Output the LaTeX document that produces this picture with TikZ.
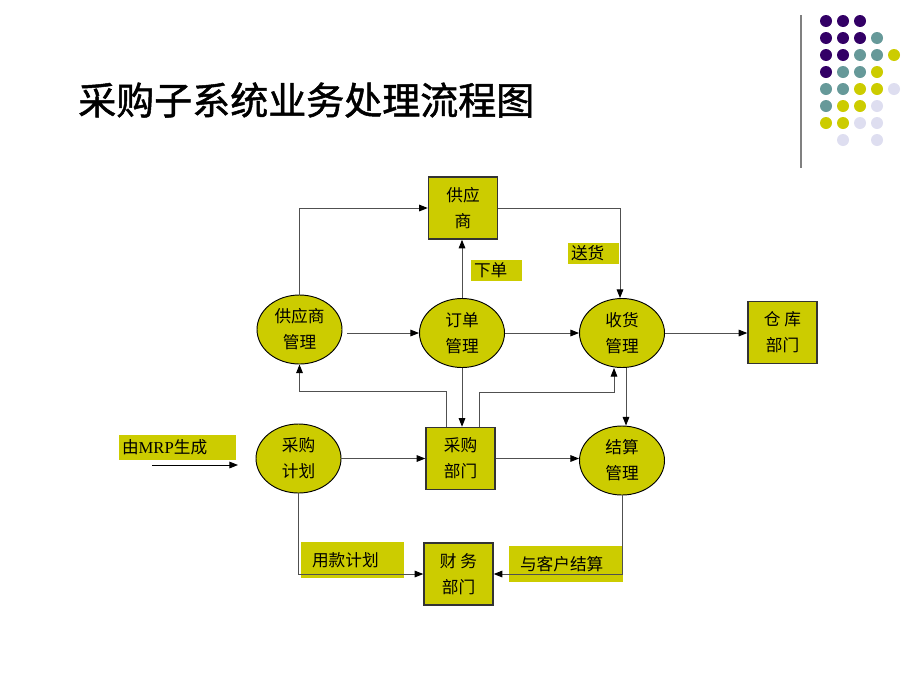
\documentclass[tikz,border=0pt]{standalone}
\usepackage{fontspec}
\setmainfont{Liberation Serif}
\newfontfamily\cjk{Noto Sans CJK SC}
\newfontfamily\cjktitle[FakeBold=1.3]{Noto Sans CJK SC}
\usepackage{tikz}
\usetikzlibrary{arrows.meta,calc,positioning,shapes.geometric}
\definecolor{flowfill}{RGB}{204,204,0}
\definecolor{linegray}{RGB}{80,80,80}
\definecolor{dotpurple}{RGB}{51,0,102}
\definecolor{dotteal}{RGB}{102,153,153}
\definecolor{dotyellow}{RGB}{204,204,0}
\definecolor{dotlilac}{RGB}{222,222,240}
\newcommand{\flowfont}{\cjk\fontsize{12.5}{19.5}\selectfont}

\begin{document}
\begin{tikzpicture}[
    x=0.75pt, y=-0.75pt,
    proc/.style={ellipse, draw=black, line width=0.7pt, fill=flowfill,
        minimum width=63.75pt, minimum height=51.75pt, inner sep=0,
        align=center, font=\flowfont},
    dept/.style={rectangle, draw=black!80, line width=1.1pt, fill=flowfill,
        minimum width=51.75pt, minimum height=46.5pt, inner sep=0,
        align=center, font=\flowfont},
    tag/.style={rectangle, fill=flowfill, inner xsep=2.25pt, inner ysep=0,
        align=left, font=\flowfont},
    conn/.style={draw=linegray, line width=0.7pt,
        -{Triangle[length=6.5pt,width=5pt,color=black]}}]
\useasboundingbox (0,0) rectangle (920,690);

% title and corner ornament
\node[anchor=west, inner sep=0, font=\cjktitle\fontsize{28.5}{30}\selectfont] (title) at (78,100) {采购子系统业务处理流程图};
\path[draw=gray, line width=1.5pt] (801,15) -- (801,168);
\foreach \cx/\cy/\cc in {
    826/21/dotpurple, 843/21/dotpurple, 860/21/dotpurple,
    826/38/dotpurple, 843/38/dotpurple, 860/38/dotpurple, 877/38/dotteal,
    826/55/dotpurple, 843/55/dotpurple, 860/55/dotteal, 877/55/dotteal, 894/55/dotyellow,
    826/72/dotpurple, 843/72/dotteal, 860/72/dotteal, 877/72/dotyellow,
    826/89/dotteal, 843/89/dotteal, 860/89/dotyellow, 877/89/dotyellow, 894/89/dotlilac,
    826/106/dotteal, 843/106/dotyellow, 860/106/dotyellow, 877/106/dotlilac,
    826/123/dotyellow, 843/123/dotyellow, 860/123/dotlilac, 877/123/dotlilac,
    843/140/dotlilac, 877/140/dotlilac}
    \path[fill=\cc] (\cx,\cy) circle[radius=6];

% labels on the connectors
\node[tag, text width=33.75pt, minimum height=15.75pt] (xd) at (496.5,270.5) {下单};
\node[tag, text width=33.75pt, minimum height=15.75pt] (sh) at (593.5,253.5) {送货};
\node[tag, text width=83.25pt, minimum height=18.75pt] (mrp) at (177.5,447.5) {由\textrm{MRP}生成};
\node[tag, inner xsep=8.25pt, text width=60.75pt, minimum height=27pt] (ykjh) at (352.5,560) {用款计划};
\node[tag, inner xsep=8.25pt, text width=69pt, minimum height=27pt] (ykhjs) at (566,564) {与客户结算};

% processes and departments
\node[dept] (gys) at (463,208) {供应\\商};
\node[proc] (gysgl) at (299.5,329.5) {供应商\\管理};
\node[proc] (ddgl) at (462,333) {订单\\管理};
\node[proc] (shgl) at (622,333) {收货\\管理};
\node[dept] (ckbm) at (782.5,332.5) {仓\ 库\\部门};
\node[proc] (cgjh) at (298.5,458.5) {采购\\计划};
\node[dept] (cgbm) at (460.5,458.5) {采购\\部门};
\node[proc] (jsgl) at (622,460.5) {结算\\管理};
\node[dept] (cwbm) at (458.5,574) {财\ 务\\部门};
\coordinate (mrpa) at (152,465);
\coordinate (mrpb) at (238,465);

\path[conn] (gysgl.north) |- (gys.west);
\path[conn] (gys.east) -| ($(shgl.north)+(-2,0)$);
\path[conn] (ddgl.north) -- (ddgl.north |- gys.south);
\path[conn] ($(gysgl.east |- ddgl.west)+(5,0)$) -- (ddgl.west);
\path[conn] (ddgl.east) -- (shgl.west);
\path[conn] (shgl.east) -- (shgl.east -| ckbm.west);
\path[conn] (ddgl.south) -- (ddgl.south |- cgbm.north);
\path[conn] ($(cgbm.north)+(-14,0)$) -- ++(0,-35) -| (gysgl.south);
\path[conn] ($(cgbm.north)+(19,0)$) -- ++(0,-34) -| ($(shgl.south)+(-8,0)$);
\path[conn] ($(shgl.south)+(4,0)$) -- ($(jsgl.north)+(4,0)$);
\path[conn] (cgjh.east) -- (cgbm.west);
\path[conn] (cgbm.east) -- (cgbm.east -| jsgl.west);
\path[conn] (cgjh.south) |- (cwbm.west);
\path[conn] (jsgl.south) |- (cwbm.east);
\path[conn, draw=black] (mrpa) -- (mrpb);

\end{tikzpicture}
\end{document}
